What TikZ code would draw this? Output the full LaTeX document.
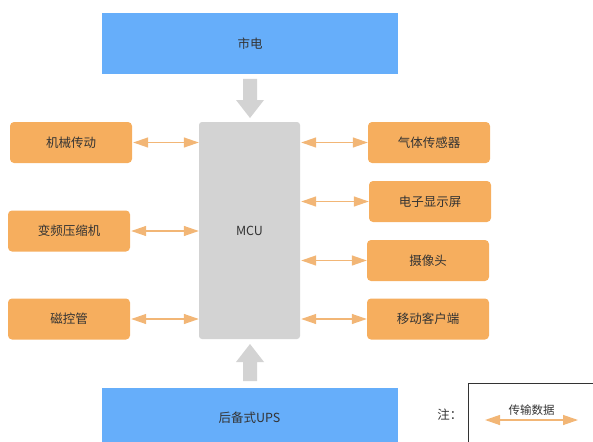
\documentclass[tikz,border=0pt]{standalone}
\usepackage{fontspec}
\setmainfont{Noto Sans CJK SC}
\usetikzlibrary{arrows.meta,shapes.arrows}
\definecolor{blu}{HTML}{66AEFA}
\definecolor{org}{HTML}{F6AE5E}
\definecolor{orgl}{HTML}{F2B676}
\definecolor{gry}{HTML}{D3D3D3}
\definecolor{txt}{HTML}{333333}
\begin{document}
\begin{tikzpicture}[x=1pt,y=-1pt,
  every node/.style={text=txt,font=\fontsize{12.5}{15}\selectfont},
  bluebox/.style={fill=blu,draw=none,minimum width=296pt,minimum height=61pt,anchor=center},
  orgbox/.style={fill=org,draw=none,rounded corners=4pt,minimum width=122pt,minimum height=41pt},
  dat/.style={draw=orgl,line width=1.3pt,{Triangle[length=15pt,width=10pt]}-{Triangle[length=15pt,width=10pt]}},
  bigarrow/.style={fill=gry,draw=none}]
\useasboundingbox (0,0) rectangle (593,441);
\node[bluebox] (mains) at (250,43.5) {市电};
\node[fill=gry,rounded corners=3pt,minimum width=101pt,minimum height=217pt] (mcu) at (249.5,230.5) {MCU};
\node[bluebox,minimum height=60pt] (ups) at (249.5,418) {后备式UPS};
% big arrows
\fill[gry] (243,79) -- (257,79) -- (257,100) -- (264,100) -- (250,118) -- (236,100) -- (243,100) -- cycle;
\fill[gry] (243,381) -- (257,381) -- (257,362) -- (264,362) -- (250,344) -- (236,362) -- (243,362) -- cycle;
% left boxes
\node[orgbox] (l1) at (71,142.5) {机械传动};
\node[orgbox] (l2) at (69,231) {变频压缩机};
\node[orgbox] (l3) at (69,319) {磁控管};
% right boxes
\node[orgbox] (r1) at (429,142.5) {气体传感器};
\node[orgbox] (r2) at (430,201.5) {电子显示屏};
\node[orgbox] (r3) at (428,260.5) {摄像头};
\node[orgbox] (r4) at (428,319) {移动客户端};
% connectors
\draw[dat] (l1.east) ++(1,0) -- (mcu.west |- l1.east);
\draw[dat] (l2.east) ++(1,0) -- (mcu.west |- l2.east);
\draw[dat] (l3.east) ++(1,0) -- (mcu.west |- l3.east);
\draw[dat] (mcu.east |- r1.west) ++(1,0) -- (r1.west);
\draw[dat] (mcu.east |- r2.west) ++(1,0) -- (r2.west);
\draw[dat] (mcu.east |- r3.west) ++(1,0) -- (r3.west);
\draw[dat] (mcu.east |- r4.west) ++(1,0) -- (r4.west);
% legend
\node[draw=txt,line width=0.6pt,minimum width=130pt,minimum height=62pt,anchor=north west] (leg) at (467.5,382.5) {};
\node[anchor=east] (zhu) at (466,415) {注：};
\coordinate (la) at (485,420);
\coordinate (lb) at (578,420);
\draw[dat] (la) -- (lb) node[midway,above=1pt,font=\fontsize{11.5}{13}\selectfont] (legtxt) {传输数据};
\end{tikzpicture}
\end{document}
